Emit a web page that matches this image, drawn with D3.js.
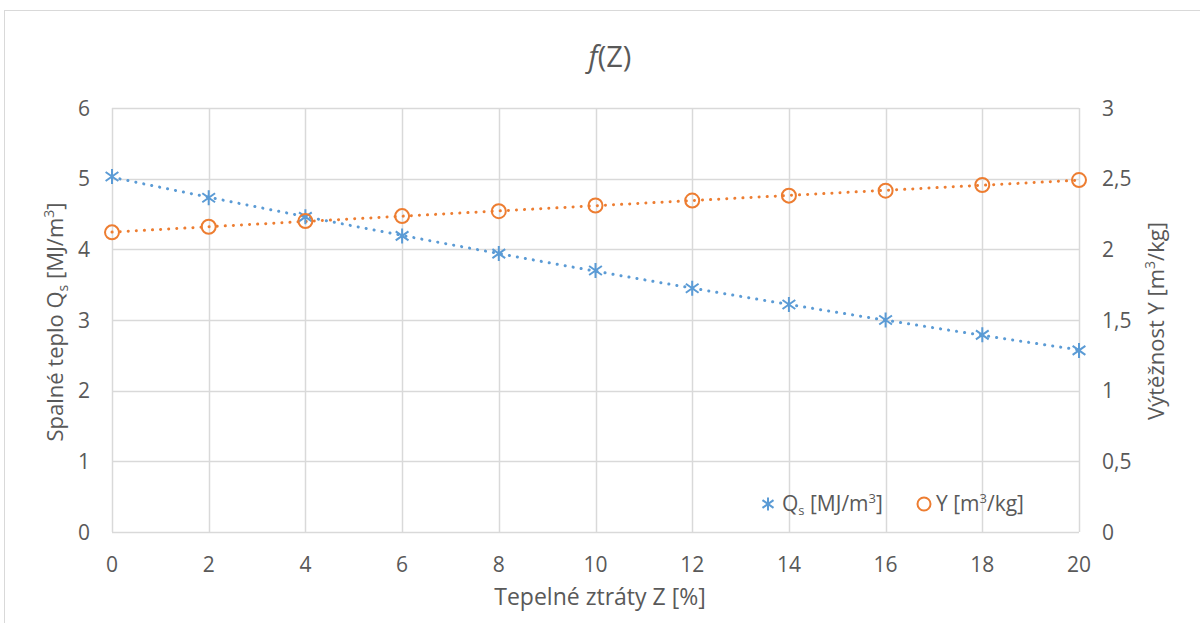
<!DOCTYPE html>
<html lang="cs">
<head>
<meta charset="UTF-8">
<title>f(Z)</title>
<style>
    body { margin: 0; background: #fff; font-family: 'Open Sans', 'Lato', sans-serif; }
    svg text { fill: #595959; }
</style>
</head>
<body>
<svg id="chart" width="1200" height="623"></svg>
<script src="https://d3js.org/d3.v7.min.js"></script>
<script>
// data
const zValues = [0, 2, 4, 6, 8, 10, 12, 14, 16, 18, 20];
const qsValues = [5.03, 4.73, 4.46, 4.19, 3.94, 3.70, 3.45, 3.22, 3.00, 2.79, 2.57];
const yieldValues = [2.12, 2.16, 2.20, 2.235, 2.27, 2.31, 2.345, 2.38, 2.415, 2.455, 2.49];
const xTicks = [0, 2, 4, 6, 8, 10, 12, 14, 16, 18, 20];
const leftTicks = [0, 1, 2, 3, 4, 5, 6];
const rightTicks = [0, 0.5, 1, 1.5, 2, 2.5, 3];

const blue = "#5B9BD5", orange = "#ED7D31", grid = "#d9d9d9";
const svg = d3.select("#chart");

// outer chart border
svg.append("rect").attr("x", 4.5).attr("y", 10.5).attr("width", 1210).attr("height", 640)
    .attr("fill", "none").attr("stroke", grid);

const x = d3.scaleLinear().domain([0, 20]).range([112, 1079]);
const yL = d3.scaleLinear().domain([0, 6]).range([532, 108]);
const yR = d3.scaleLinear().domain([0, 3]).range([532, 108]);

// gridlines
svg.append("g").selectAll("line").data(leftTicks).join("line")
    .attr("x1", x(0)).attr("x2", x(20))
    .attr("y1", d => Math.round(yL(d)) + 0.5).attr("y2", d => Math.round(yL(d)) + 0.5)
    .attr("stroke", grid).attr("stroke-width", 1.5);
svg.append("g").selectAll("line").data(xTicks).join("line")
    .attr("x1", d => Math.round(x(d)) + 0.5).attr("x2", d => Math.round(x(d)) + 0.5)
    .attr("y1", yL(6)).attr("y2", yL(0))
    .attr("stroke", grid).attr("stroke-width", 1.5);

// tick labels
const fmt = d => String(d).replace(".", ",");
svg.append("g").selectAll("text").data(leftTicks).join("text")
    .attr("x", 90).attr("y", d => yL(d)).attr("dy", "0.36em")
    .attr("text-anchor", "end").attr("font-size", 21).text(d => d);
svg.append("g").selectAll("text").data(rightTicks).join("text")
    .attr("x", 1102).attr("y", d => yR(d)).attr("dy", "0.36em")
    .attr("text-anchor", "start").attr("font-size", 21).text(fmt);
svg.append("g").selectAll("text").data(xTicks).join("text")
    .attr("x", d => x(d)).attr("y", 572)
    .attr("text-anchor", "middle").attr("font-size", 21).text(d => d);

// title
const title = svg.append("text").attr("x", 610).attr("y", 67)
    .attr("text-anchor", "middle").attr("font-size", 29);
title.append("tspan").attr("font-style", "italic").text("f");
title.append("tspan").text("(Z)");

// axis titles
const lt = svg.append("text").attr("transform", "translate(63,322) rotate(-90)")
    .attr("text-anchor", "middle").attr("font-size", 22);
lt.append("tspan").text("Spalné teplo Q");
lt.append("tspan").attr("font-size", 14).attr("dy", 5).text("s");
lt.append("tspan").attr("dy", -5).text(" [MJ/m");
lt.append("tspan").attr("font-size", 14).attr("dy", -9).text("3");
lt.append("tspan").attr("dy", 9).text("]");

const rt = svg.append("text").attr("transform", "translate(1164,321) rotate(-90)")
    .attr("text-anchor", "middle").attr("font-size", 22);
rt.append("tspan").text("Výtěžnost Y [m");
rt.append("tspan").attr("font-size", 14).attr("dy", -9).text("3");
rt.append("tspan").attr("dy", 9).text("/kg]");

svg.append("text").attr("x", 600).attr("y", 605).attr("text-anchor", "middle")
    .attr("font-size", 23).text("Tepelné ztráty Z [%]");

// quadratic trendline fitted to the data
function quadFit(xs, ys) {
    let s = [0, 0, 0, 0, 0], t = [0, 0, 0];
    xs.forEach((xi, i) => {
        for (let k = 0; k < 5; k++) s[k] += Math.pow(xi, k);
        for (let k = 0; k < 3; k++) t[k] += ys[i] * Math.pow(xi, k);
    });
    const A = [[s[0], s[1], s[2], t[0]], [s[1], s[2], s[3], t[1]], [s[2], s[3], s[4], t[2]]];
    for (let i = 0; i < 3; i++) {
        for (let j = i + 1; j < 3; j++) {
            const f = A[j][i] / A[i][i];
            for (let k = i; k < 4; k++) A[j][k] -= f * A[i][k];
        }
    }
    const c = [0, 0, 0];
    for (let i = 2; i >= 0; i--) {
        let v = A[i][3];
        for (let k = i + 1; k < 3; k++) v -= A[i][k] * c[k];
        c[i] = v / A[i][i];
    }
    return z => c[0] + c[1] * z + c[2] * z * z;
}

const fineZ = d3.range(0, 20.01, 0.5);
const qsFit = quadFit(zValues, qsValues);
const yFit = quadFit(zValues, yieldValues);

svg.append("path").datum(fineZ)
    .attr("d", d3.line().x(d => x(d)).y(d => yL(qsFit(d))))
    .attr("fill", "none").attr("stroke", blue).attr("stroke-width", 3)
    .attr("stroke-linecap", "round").attr("stroke-dasharray", "0.1 8");
svg.append("path").datum(fineZ)
    .attr("d", d3.line().x(d => x(d)).y(d => yR(yFit(d))))
    .attr("fill", "none").attr("stroke", orange).attr("stroke-width", 3)
    .attr("stroke-linecap", "round").attr("stroke-dasharray", "0.1 8");

// markers: Excel-style star (X plus vertical stroke)
function star(g, cx, cy, r) {
    const p = `M${cx},${cy - r}V${cy + r}` +
        `M${cx - r * 0.85},${cy - r * 0.6}L${cx + r * 0.85},${cy + r * 0.6}` +
        `M${cx - r * 0.85},${cy + r * 0.6}L${cx + r * 0.85},${cy - r * 0.6}`;
    g.append("path").attr("d", p).attr("stroke", blue).attr("stroke-width", 2).attr("fill", "none");
}
const gm = svg.append("g");
zValues.forEach((z, i) => star(gm, x(z), yL(qsValues[i]), 7.5));
svg.append("g").selectAll("circle").data(zValues).join("circle")
    .attr("cx", d => x(d)).attr("cy", (d, i) => yR(yieldValues[i])).attr("r", 7)
    .attr("fill", "none").attr("stroke", orange).attr("stroke-width", 2);

// legend
star(svg, 768, 504, 6.5);
const l1 = svg.append("text").attr("x", 782).attr("y", 511).attr("font-size", 21);
l1.append("tspan").text("Q");
l1.append("tspan").attr("font-size", 13).attr("dy", 4).text("s");
l1.append("tspan").attr("dy", -4).text(" [MJ/m");
l1.append("tspan").attr("font-size", 13).attr("dy", -8).text("3");
l1.append("tspan").attr("dy", 8).text("]");
svg.append("circle").attr("cx", 924).attr("cy", 504).attr("r", 6.5)
    .attr("fill", "none").attr("stroke", orange).attr("stroke-width", 2);
const l2 = svg.append("text").attr("x", 936).attr("y", 511).attr("font-size", 21);
l2.append("tspan").text("Y [m");
l2.append("tspan").attr("font-size", 13).attr("dy", -8).text("3");
l2.append("tspan").attr("dy", 8).text("/kg]");
</script>
</body>
</html>
